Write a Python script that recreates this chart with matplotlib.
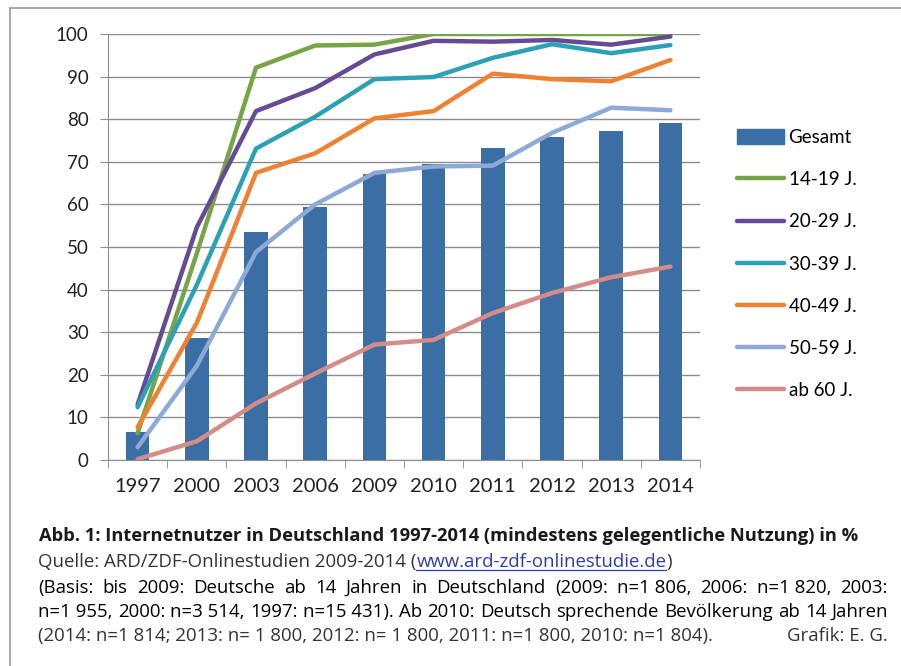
import matplotlib
matplotlib.use("Agg")
import matplotlib.pyplot as plt
from matplotlib.lines import Line2D
from matplotlib.patches import Patch

W, H = 901, 666

years = ["1997", "2000", "2003", "2006", "2009", "2010", "2011", "2012", "2013", "2014"]
gesamt = [6.5, 28.6, 53.5, 59.5, 67.1, 69.4, 73.3, 75.9, 77.2, 79.1]
age_14_19 = [6.3, 48.5, 92.1, 97.3, 97.5, 100.0, 100.0, 100.0, 100.0, 100.0]
age_20_29 = [13.0, 54.6, 81.9, 87.3, 95.2, 98.4, 98.2, 98.6, 97.5, 99.4]
age_30_39 = [12.4, 41.1, 73.1, 80.6, 89.4, 89.9, 94.4, 97.6, 95.5, 97.4]
age_40_49 = [7.7, 32.2, 67.4, 72.0, 80.2, 81.9, 90.7, 89.4, 88.9, 93.9]
age_50_59 = [3.0, 22.1, 48.8, 60.0, 67.4, 68.9, 69.1, 76.8, 82.7, 82.1]
age_60 = [0.2, 4.4, 13.3, 20.3, 27.1, 28.2, 34.5, 39.2, 42.9, 45.4]

series = [
    ("14-19 J.", age_14_19, "#77A446"),
    ("20-29 J.", age_20_29, "#654B94"),
    ("30-39 J.", age_30_39, "#2CA0B5"),
    ("40-49 J.", age_40_49, "#EE8232"),
    ("50-59 J.", age_50_59, "#8DA9D5"),
    ("ab 60 J.", age_60, "#D48C88"),
]
BAR_COLOR = "#3C6EA6"
GRID = "#8c8c8c"
FONT = "Lato"
CAP_FONT = "Open Sans"


def px(x, y):
    return x / W, 1 - y / H


fig = plt.figure(figsize=(W / 100, H / 100), dpi=100)

# outer frame (top and left edges visible)
fig.add_artist(Line2D([10 / W, 1], [1 - 8 / H] * 2, color="#999999", lw=1.2))
fig.add_artist(Line2D([10 / W] * 2, [0, 1 - 8 / H], color="#999999", lw=1.2))

ax = fig.add_axes([108 / W, 1 - 460 / H, (700 - 108) / W, (460 - 34) / H])
x = list(range(len(years)))
ax.bar(x, gesamt, width=0.4, color=BAR_COLOR, zorder=2)
handles = [Patch(color=BAR_COLOR, label="Gesamt")]
for label, vals, color in series:
    ln, = ax.plot(x, vals, color=color, lw=3.2, zorder=3, solid_capstyle="round",
                  solid_joinstyle="round", label=label)
    handles.append(ln)

ax.set_xlim(-0.5, 9.5)
ax.set_ylim(0, 100)
ax.set_yticks(range(0, 101, 10))
ax.set_xticks(x, years)
ax.set_xticks([i - 0.5 for i in range(len(years) + 1)], minor=True)
ax.grid(axis="y", color=GRID, lw=1)
ax.set_axisbelow(True)
for s in ["top", "right"]:
    ax.spines[s].set_visible(False)
ax.spines["left"].set_color(GRID)
ax.spines["bottom"].set_color(GRID)
ax.tick_params(axis="x", which="major", length=0, pad=13, labelsize=14.5, labelcolor="#222222")
ax.tick_params(axis="x", which="minor", length=6, color=GRID)
ax.tick_params(axis="y", length=6, color=GRID, pad=8, labelsize=13.5, labelcolor="#222222")
for t in ax.get_xticklabels() + ax.get_yticklabels():
    t.set_fontfamily(FONT)

fig.legend(handles=handles, loc="center left", bbox_to_anchor=px(737, 264), frameon=False,
           borderpad=0, borderaxespad=0, handlelength=2.5, handleheight=0.8,
           handletextpad=0.25, labelspacing=1.34, prop={"family": FONT, "size": 13.5})

# caption
fig.canvas.draw()
renderer = fig.canvas.get_renderer()


def width_of(t):
    return t.get_window_extent(renderer).width


def fit_text(s, x0, x1, y, **kw):
    t = fig.text(*px(x0, y), s, va="baseline", ha="left", family=CAP_FONT, fontsize=12, **kw)
    t.set_fontsize(12 * (x1 - x0) / width_of(t))
    return t


def tokens(line):
    out = []
    for w in line.split(" "):
        if out and (out[-1][-1].isdigit() or out[-1][-1] == "=") and w[0].isdigit():
            out[-1] += " " + w
        else:
            out.append(w)
    return out


def justify(line, x0, x1, y, size):
    items = [fig.text(*px(x0, y), w, va="baseline", ha="left", family=CAP_FONT, fontsize=size)
             for w in tokens(line)]
    widths = [width_of(t) for t in items]
    gap = (x1 - x0 - sum(widths)) / (len(items) - 1)
    pos = x0
    for t, w in zip(items, widths):
        t.set_position(px(pos, y))
        pos += w + gap


fit_text("Abb. 1: Internetnutzer in Deutschland 1997-2014 (mindestens gelegentliche Nutzung) in %",
         39, 858, 541, weight="bold", color="#1a1a1a")

q1 = fig.text(*px(38, 567), "Quelle: ARD/ZDF-Onlinestudien 2009-2014 (", va="baseline",
              family=CAP_FONT, fontsize=12, color="#333333")
q2 = fig.text(0, 0, "www.ard-zdf-onlinestudie.de", va="baseline", family=CAP_FONT,
              fontsize=12, color="#2b3fb0")
q3 = fig.text(0, 0, ")", va="baseline", family=CAP_FONT, fontsize=12, color="#333333")
total = width_of(q1) + width_of(q2) + width_of(q3)
size = 12 * (671 - 38) / total
for t in (q1, q2, q3):
    t.set_fontsize(size)
w1, w2 = width_of(q1), width_of(q2)
q2.set_position(px(38 + w1, 567))
q3.set_position(px(38 + w1 + w2, 567))
fig.add_artist(Line2D([(38 + w1) / W, (38 + w1 + w2) / W], [1 - 570 / H] * 2,
                      color="#2b3fb0", lw=0.9))

justify("(Basis: bis 2009: Deutsche ab 14 Jahren in Deutschland (2009: n=1 806, 2006: n=1 820, 2003:",
        38, 888, 593, size)
justify("n=1 955, 2000: n=3 514, 1997: n=15 431). Ab 2010: Deutsch sprechende Bevölkerung ab 14 Jahren",
        38, 888, 617, size)
fig.text(*px(38, 641), "(2014: n=1 814; 2013: n= 1 800, 2012: n= 1 800, 2011: n=1 800, 2010: n=1 804).",
         va="baseline", family=CAP_FONT, fontsize=size, color="#333333")
fig.text(*px(888, 641), "Grafik: E. G.", va="baseline", ha="right", family=CAP_FONT,
         fontsize=size, color="#333333")

fig.savefig("out.png", dpi=100)
